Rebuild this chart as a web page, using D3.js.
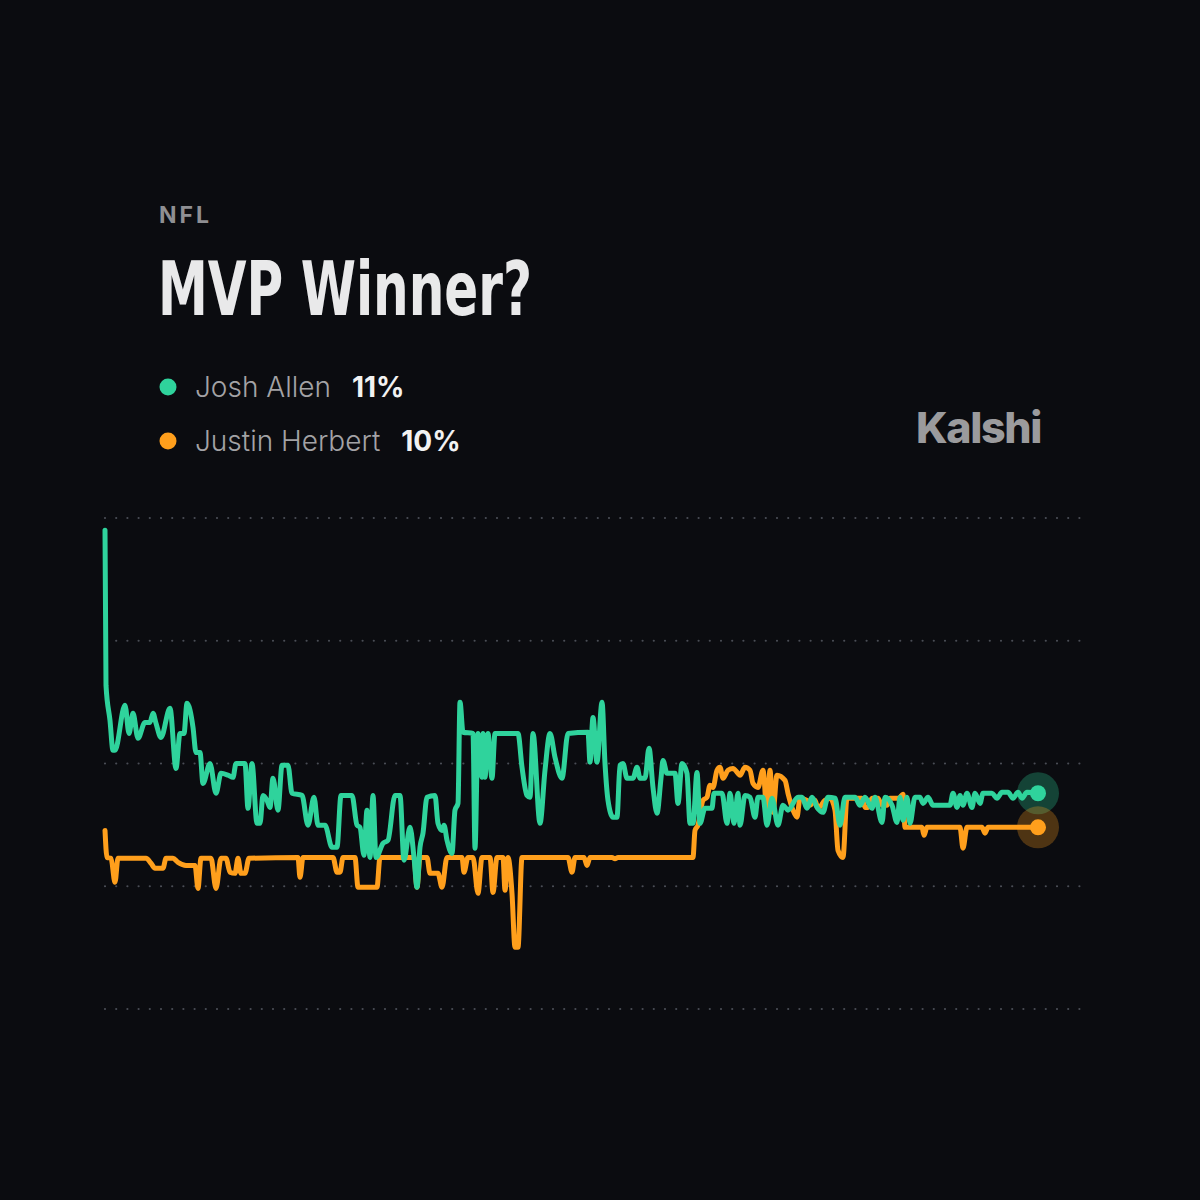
<!DOCTYPE html>
<html><head><meta charset="utf-8">
<script src="https://cdn.jsdelivr.net/npm/d3@7"></script>
<style>
html,body{margin:0;padding:0;background:#0b0c10;}
svg{display:block;}
</style></head>
<body>
<script>
// ---- data (t = days since market open, v = probability %) ----
const seriesNames = ["Josh Allen", "Justin Herbert"];
const latestLabels = ["11%", "10%"];
const gridValues = [4, 8, 12, 16, 20];

const allenT = [0,0.2,1,1.6,2,4,4.8,5.6,6.6,8,9,9.6,10.2,11.2,13,14.2,15,15.8,16.4,17.6,18.2,19,19.6,21,22.2,23.2,24.6,25.6,26.2,28,28.6,29.4,30.4,31,31.6,32.4,33,33.6,34.6,35.4,36.6,37.4,39.4,40.6,41.8,42.6,44,45.4,46.4,47.2,49.4,50.4,51,51.8,52.4,53,53.6,54.2,55.6,56.6,58,59,59.8,61,61.8,62.4,63,63.6,64.4,66,66.6,67.4,67.8,68.4,69.4,70,70.6,71,71.6,73.6,74,74.6,75.4,75.6,76,76.6,77.4,78,82.6,83.4,84.4,85,85.6,87,88,89,90,91.4,92.6,96.6,97,97.6,98.4,99.4,100,100.6,101.6,102.4,103,103.6,104.4,105.6,106.4,107,108,108.8,109.6,110.4,111.2,111.6,112.4,114,114.6,115.4,116.4,117,117.6,118.4,119,120,121.4,121.8,123.4,124.4,125,125.8,126.6,127,128,129,130,130.6,131.6,132.4,133.4,134.6,135.6,136.6,138.6,139.4,140.4,141.4,142.4,143.6,144.6,146,147,148,150,151,152,153.4,154,155.4,156,157.4,158.4,159,159.6,160.4,161,162,163,163.6,164.6,165.6,169,169.6,170.4,171,171.6,172.4,173.4,174,175,175.6,177.4,178.4,179.4,180.6,181.6,182.6,183.4,184.4,186.6];
const allenV = [19.6,14.55,13.4,12.43,12.43,13.9,12.98,13.64,12.82,13.34,13.34,13.64,13.31,12.85,13.8,11.84,12.98,12.98,13.96,13.18,12.36,12.36,11.35,12.0,11.03,11.68,11.62,11.55,12.0,12.0,10.54,12.0,10.05,10.05,10.96,10.8,10.57,11.52,10.48,11.94,11.94,11.03,10.96,9.99,10.9,9.99,9.99,9.27,9.27,10.96,10.96,9.99,9.92,9.01,10.48,8.94,10.96,8.94,9.4,9.5,10.96,10.96,8.85,9.92,8.94,7.97,9.27,9.73,10.9,10.96,10.05,9.82,9.99,9.5,9.07,10.48,10.7,14.0,13.02,12.98,9.24,12.98,11.55,12.98,11.55,12.98,11.52,12.98,12.98,11.88,10.96,10.9,12.98,10.05,11.78,12.98,12.2,11.52,12.98,13.02,12.04,13.5,12.04,14.0,12.0,10.8,10.25,10.25,11.94,12.0,11.52,11.52,11.88,11.52,11.52,12.5,11.22,10.38,11.52,12.1,11.68,11.68,10.7,12.0,11.68,10.05,10.05,11.71,10.05,10.54,10.54,11.03,11.03,10.05,11.03,10.05,11.03,9.99,10.96,10.9,10.25,10.9,10.9,9.99,10.87,9.99,10.64,10.48,10.9,10.9,10.54,10.9,10.57,10.41,10.9,10.87,9.99,10.9,10.9,10.64,10.9,10.54,10.9,10.08,10.9,10.64,10.08,10.9,10.15,10.9,10.05,10.9,10.9,10.7,10.9,10.64,10.64,11.03,10.57,10.96,10.64,11.03,10.57,11.03,10.7,11.03,11.03,10.87,11.06,11.06,10.87,11.06,10.87,11.06,11.03];

const herbertT = [0,0.4,1.2,2,2.6,8.2,9.2,10,11.6,12.2,13.6,14.6,16.2,18,18.6,19.2,21.2,22.2,23.2,24.2,25,26,26.6,27.2,28,28.8,38.6,39,39.6,45.6,46.4,47,47.6,50,50.6,54.4,55,61.8,62.4,63,64.4,65,66.6,67.4,68.4,71.4,71.8,72.6,73.6,74.6,75.4,77,77.6,78.4,79.6,80,80.6,81.4,82,82.6,83.4,92.6,93.4,94,95.8,96.4,97,101.4,102,102.6,117.6,118,118.6,119.6,120.4,121,121.6,122.4,123,123.6,124.6,125.6,126.6,127,128,129,129.6,130.6,131.6,132.4,133,133.6,134.4,136,136.6,137.6,138.4,139,140.4,141,142,142.6,144,145,146,146.6,147.6,148.4,151.4,152,152.6,153.4,154.6,155.4,156.4,157,158.4,159,159.6,160,163.4,163.8,164.4,169,169.6,171,171.6,172.4,175.4,176,176.6,186.6];
const herbertV = [9.82,8.94,8.91,8.13,8.91,8.91,8.75,8.59,8.59,8.91,8.91,8.78,8.68,8.68,7.93,8.91,8.91,7.93,8.91,8.91,8.46,8.42,8.91,8.42,8.42,8.91,8.94,8.29,8.94,8.94,8.46,8.46,8.94,8.94,7.97,7.97,8.94,8.94,7.97,8.94,8.94,8.42,8.42,7.97,8.94,8.94,8.46,8.94,8.94,7.77,8.94,8.94,7.8,8.94,8.94,7.87,8.94,7.77,6.01,6.01,8.94,8.94,8.46,8.94,8.94,8.68,8.94,8.94,8.9,8.94,8.94,9.82,9.99,10.8,10.9,11.29,11.22,11.78,11.88,11.52,11.78,11.84,11.68,11.62,11.88,11.78,11.35,11.22,11.78,10.41,11.78,10.41,11.62,11.45,11.03,10.48,10.25,10.87,10.8,10.64,10.8,10.54,10.8,10.87,10.48,9.17,8.94,10.87,10.87,10.57,10.57,10.87,10.87,10.64,10.64,10.87,10.87,10.9,11.0,9.92,9.92,9.66,9.92,9.92,9.92,9.92,9.24,9.92,9.92,9.73,9.92,9.92];

const colors = ["#2fd39c", "#ff9f1c"];

// ---- layout ----
const W = 1200, H = 1200;
const svg = d3.select("body").append("svg").attr("width", W).attr("height", H);
svg.append("rect").attr("width", W).attr("height", H).attr("fill", "#0b0c10");

const x = d3.scaleLinear().domain([0, 186.6]).range([105, 1038]);
const y = d3.scaleLinear().domain([4, 20]).range([1009, 518]);

// gridlines
svg.append("g").selectAll("line").data(gridValues).join("line")
  .attr("x1", 105).attr("x2", 1088)
  .attr("y1", d => y(d)).attr("y2", d => y(d))
  .attr("stroke", "#4a4d55").attr("stroke-width", 2.2)
  .attr("stroke-linecap", "round").attr("stroke-dasharray", "0,11.2");

// header text
svg.append("text").attr("x", 159).attr("y", 223)
  .attr("font-family", "Inter, 'Noto Sans', sans-serif").attr("font-weight", 700)
  .attr("font-size", 23).attr("letter-spacing", 3).attr("fill", "#8f8f93").text("NFL");

svg.append("text").attr("x", 158).attr("y", 315)
  .attr("font-family", "'DejaVu Sans Condensed', 'DejaVu Sans', sans-serif")
  .attr("font-weight", 700).attr("font-size", 74)
  .attr("textLength", 374).attr("lengthAdjust", "spacingAndGlyphs")
  .attr("fill", "#e9e9ea").text("MVP Winner?");

// legend
const legendY = [387, 441];
const legend = svg.append("g");
seriesNames.forEach((name, i) => {
  legend.append("circle").attr("cx", 168).attr("cy", legendY[i]).attr("r", 8.5).attr("fill", colors[i]);
  const t = legend.append("text").attr("x", 195).attr("y", legendY[i] + 10)
    .attr("font-family", "Inter, 'Noto Sans', sans-serif").attr("font-size", 28);
  t.append("tspan").attr("font-weight", 300).attr("fill", "#a3a3a6").text(name);
  t.append("tspan").attr("dx", 21).attr("font-weight", 700).attr("fill", "#f2f2f2").text(latestLabels[i]);
});

// Kalshi wordmark
svg.append("text").attr("x", 916).attr("y", 443)
  .attr("font-family", "Inter, 'Noto Sans', sans-serif").attr("font-weight", 800)
  .attr("font-size", 43).attr("letter-spacing", -1.4).attr("fill", "#9b9b9d").text("Kalshi");

// lines
const seriesData = [
  allenT.map((t, i) => ({t, v: allenV[i]})),
  herbertT.map((t, i) => ({t, v: herbertV[i]}))
];
const line = d3.line().x(d => x(d.t)).y(d => y(d.v)).curve(d3.curveMonotoneX);

[1, 0].forEach(i => {
  svg.append("path").datum(seriesData[i])
    .attr("d", line).attr("fill", "none")
    .attr("stroke", colors[i]).attr("stroke-width", 5)
    .attr("stroke-linejoin", "round").attr("stroke-linecap", "round");
});

// end markers
seriesData.forEach((d, i) => {
  const last = d[d.length - 1];
  svg.append("circle").attr("cx", x(last.t)).attr("cy", y(last.v)).attr("r", 21)
    .attr("fill", colors[i]).attr("opacity", 0.28);
});
seriesData.forEach((d, i) => {
  const last = d[d.length - 1];
  svg.append("circle").attr("cx", x(last.t)).attr("cy", y(last.v)).attr("r", 8)
    .attr("fill", colors[i]);
});
</script>
</body></html>
